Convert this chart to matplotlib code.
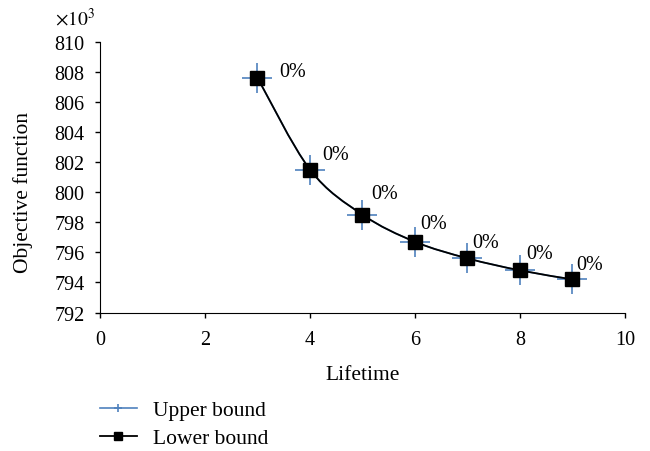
import numpy as np
import matplotlib.pyplot as plt
from matplotlib.path import Path
from matplotlib.patches import PathPatch
from matplotlib.lines import Line2D

# =========================
# DATA
# =========================

lifetime = [3, 4, 5, 6, 7, 8, 9]
upper_bound = [807.6, 801.5, 798.5, 796.7, 795.6, 794.8, 794.2]
lower_bound = [807.6, 801.5, 798.5, 796.7, 795.6, 794.8, 794.2]
gap_labels = ["0%", "0%", "0%", "0%", "0%", "0%", "0%"]

x_ticks = [0, 2, 4, 6, 8, 10]
y_ticks = [792, 794, 796, 798, 800, 802, 804, 806, 808, 810]

# label offsets in points (layout only)
label_dx = [15.5, 8.6, 6.5, 3.6, 3.6, 4.3, 2.9]
label_dy = [4.3, 10.8, 15, 13, 11.5, 12.2, 10.8]

plt.rcParams["font.family"] = ["Liberation Serif", "DejaVu Serif"]
plt.rcParams["mathtext.fontset"] = "stix"

BLUE = "#4f81bd"
TICK_FS = 14.5
LABEL_FS = 15.5


def smooth_path(xs, ys):
    # Excel style smoothed line, as bezier segments through the points
    pts = np.column_stack([xs, ys]).astype(float)
    verts = [pts[0]]
    codes = [Path.MOVETO]
    n = len(pts)
    for i in range(n - 1):
        p0 = pts[i - 1] if i > 0 else pts[i]
        p1 = pts[i]
        p2 = pts[i + 1]
        p3 = pts[i + 2] if i + 2 < n else pts[i + 1]
        c1 = p1 + (p2 - p0) / 6.0
        c2 = p2 - (p3 - p1) / 6.0
        verts += [c1, c2, p2]
        codes += [Path.CURVE4] * 3
    return Path(verts, codes)


# =========================
# CHART
# =========================

fig = plt.figure(figsize=(6.5, 4.52), dpi=100)
ax = fig.add_axes([0.1538, 0.3064, 0.8077, 0.5992])

ax.add_patch(PathPatch(smooth_path(lifetime, upper_bound), fill=False,
                       edgecolor=BLUE, lw=1.2, zorder=2))
ax.plot(lifetime, upper_bound, ls="none", marker="+", ms=22, mew=1.2,
        color=BLUE, zorder=3)

ax.add_patch(PathPatch(smooth_path(lifetime, lower_bound), fill=False,
                       edgecolor="black", lw=1.3, zorder=4))
ax.plot(lifetime, lower_bound, ls="none", marker="s", ms=10,
        color="black", zorder=5)

for x, y, t, dx, dy in zip(lifetime, lower_bound, gap_labels, label_dx, label_dy):
    ax.annotate(t, (x, y), xytext=(dx, dy), textcoords="offset points",
                ha="left", va="center", fontsize=TICK_FS)

ax.set_xlim(0, 10)
ax.set_ylim(792, 810)
ax.set_xticks(x_ticks)
ax.set_yticks(y_ticks)
ax.tick_params(labelsize=TICK_FS, direction="out", length=3.6, width=1)
ax.tick_params(axis="x", pad=9)
ax.tick_params(axis="y", pad=7.5)

for s in ["top", "right"]:
    ax.spines[s].set_visible(False)

ax.set_xlabel("Lifetime", fontsize=LABEL_FS)
ax.set_ylabel("Objective function", fontsize=LABEL_FS)
ax.xaxis.set_label_coords(0.5, -0.195)
ax.yaxis.set_label_coords(-0.128, 0.448)

fig.text(0.0846, 0.958, r"$\times10^3$", fontsize=14, va="center")

handles = [
    Line2D([], [], color=BLUE, lw=1.2, marker="+", ms=6, mew=1.2),
    Line2D([], [], color="black", lw=1.3, marker="s", ms=6),
]
fig.legend(handles, ["Upper bound", "Lower bound"], loc="upper left",
           bbox_to_anchor=(0.1538, 0.112), frameon=False, fontsize=LABEL_FS,
           handlelength=1.72, handletextpad=0.75, labelspacing=0.35,
           borderaxespad=0, borderpad=0)

plt.savefig("out.png", dpi=100)
plt.close()
